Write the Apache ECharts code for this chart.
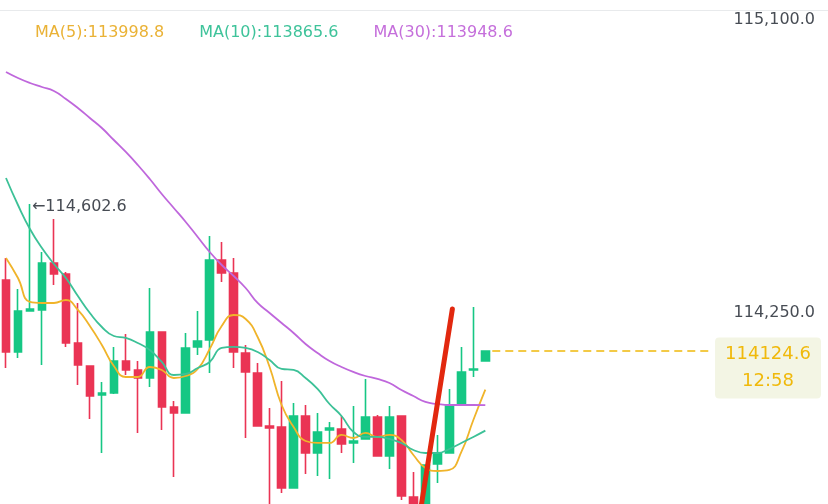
<!DOCTYPE html>
<html>
<head>
<meta charset="utf-8">
<script src="https://cdn.jsdelivr.net/npm/echarts@6/dist/echarts.min.js"></script>
<style>
html,body{margin:0;padding:0;background:#fff;}
#chart{width:828px;height:504px;}
</style>
</head>
<body>
<div id="chart"></div>
<script>
// ---- data ----
const categories = ['1','2','3','4','5','6','7','8','9','10','11','12','13','14','15','16','17','18','19','20','21','22','23','24','25','26','27','28','29','30','31','32','33','34','35','36','37','38','39','40','41'];
const opens  = [114355.5,114121.4,114254.7,114258.0,114410.8,114375.1,114150.7,114075.9,113981.6,113988.1,114092.1,114062.9,114036.8,114186.4,113942.5,113923.0,114137.7,114160.4,114420.6,114378.3,114118.1,114053.1,113880.7,113877.5,113679.1,113913.3,113792.9,113867.7,113871.0,113825.5,113838.5,113910.0,113783.2,113913.3,113649.9,113601.1,113757.2,113792.9,113949.0,114062.9,114092.1];
const closes = [114121.4,114254.7,114261.2,114410.8,114375.1,114150.7,114079.1,113978.3,113988.1,114092.1,114062.9,114036.8,114186.4,113942.5,113923.0,114134.4,114157.2,114420.6,114378.3,114121.4,114056.4,113880.7,113874.2,113679.1,113913.3,113792.9,113861.2,113874.2,113822.2,113832.0,113910.0,113783.2,113910.0,113653.1,113601.1,113753.9,113792.9,113945.8,114056.4,114066.1,114124.6];
const lows   = [114069.4,114101.9,114254.7,114079.1,114339.3,114137.7,114014.1,113903.5,113792.9,113984.8,114046.6,113858.0,114007.6,113867.7,113714.9,113923.0,114111.6,114053.1,114349.0,114069.4,113841.7,113880.7,113607.6,113662.9,113679.1,113724.7,113718.2,113708.4,113792.9,113760.4,113838.5,113783.2,113740.9,113640.1,113575.1,113591.3,113695.4,113792.9,113949.0,114040.1,114092.1];
const highs  = [114427.1,114326.3,114602.6,114446.6,114553.9,114381.6,114280.7,114075.9,114023.8,114137.7,114179.9,114092.1,114329.5,114186.4,113962.0,114183.2,114254.7,114498.6,114479.1,114427.1,114144.2,114085.6,113939.3,114027.1,113955.5,113949.0,113923.0,113893.8,113913.3,113945.8,114033.6,113916.5,113945.8,113913.3,113731.2,113753.9,113851.5,114001.1,114137.7,114267.7,114124.6];
const ma5  = [114427.1,114362.0,114284.0,114280.7,114280.7,114290.5,114258.0,114205.9,114144.2,114075.9,114040.1,114040.1,114072.6,114062.9,114036.8,114043.3,114066.1,114131.2,114205.9,114241.7,114228.7,114170.2,114072.6,113949.0,113877.5,113832.0,113825.5,113825.5,113851.5,113841.7,113858.0,113845.0,113851.5,113835.2,113786.4,113744.2,113734.4,113737.7,113796.2,113900.3,113998.8];
const ma10 = [114687.2,114599.4,114521.4,114459.6,114407.6,114362.0,114303.5,114248.2,114202.7,114173.4,114166.9,114150.7,114127.9,114088.9,114046.6,114049.9,114069.4,114088.9,114134.4,114137.7,114134.4,114121.4,114095.4,114066.1,114062.9,114036.8,114001.1,113952.3,113913.3,113861.2,113845.0,113845.0,113838.5,113825.5,113802.7,113792.9,113792.9,113806.0,113825.5,113845.0,113865.6];
const ma30 = [115032.0,115012.4,114996.2,114983.2,114970.2,114944.2,114914.9,114882.4,114849.8,114810.8,114771.8,114729.5,114684.0,114635.2,114589.7,114544.2,114495.4,114446.6,114404.3,114368.5,114329.5,114280.7,114248.2,114215.7,114183.2,114147.4,114118.1,114092.1,114072.6,114056.4,114043.3,114033.6,114020.6,113997.8,113978.3,113958.8,113952.3,113949.0,113949.0,113949.0,113948.6];
const axisTickValues = [114250.0];
const topTickLabel = '115,100.0';
const lastPrice = 114124.6;
const countdown = '12:58';
const highMark = { index: 2, value: 114602.6 };
const trendLine = [[34.53, 113591.3], [37.25, 114261.2]];

// ---- build ----
const candleData = categories.map((c, i) => [opens[i], closes[i], lows[i], highs[i]]);
const fmt = v => v.toLocaleString('en-US', { minimumFractionDigits: 1, maximumFractionDigits: 1 });
const FONT = 'DejaVu Sans';
const UP = '#16c784', DOWN = '#ea3454';
const C5 = '#f0b42a', C10 = '#3cc197', C30 = '#bf67dc';

const chart = echarts.init(document.getElementById('chart'));
chart.setOption({
  animation: false,
  backgroundColor: '#ffffff',
  grid: { left: -1, top: 0, width: 720, height: 504 },
  legend: {
    left: 30, top: 25, padding: 0, itemGap: 30, itemWidth: 0, itemHeight: 0,
    selectedMode: false, icon: 'rect',
    data: [
      { name: 'MA(5)', textStyle: { color: '#eab236' } },
      { name: 'MA(10)', textStyle: { color: '#3ec39a' } },
      { name: 'MA(30)', textStyle: { color: '#c56fdb' } }
    ],
    formatter: name => {
      const arr = name === 'MA(5)' ? ma5 : name === 'MA(10)' ? ma10 : ma30;
      return name + ':' + arr[arr.length - 1].toFixed(1);
    },
    textStyle: { fontFamily: FONT, fontSize: 16, lineHeight: 16 }
  },
  xAxis: [
    { type: 'category', data: categories, max: 59, boundaryGap: true,
      axisLine: { show: false }, axisTick: { show: false }, axisLabel: { show: false }, splitLine: { show: false } },
    { type: 'value', min: -0.5, max: 59.5, show: false }
  ],
  yAxis: {
    type: 'value', position: 'right', min: 113627.0, max: 115266.1, scale: true,
    axisLine: { show: false }, axisTick: { show: false }, splitLine: { show: false },
    axisLabel: { customValues: axisTickValues, formatter: fmt, color: '#474c54', fontFamily: FONT, fontSize: 16, align: 'right', margin: 96 }
  },
  graphic: [
    { type: 'line', shape: { x1: 0, y1: 10.5, x2: 828, y2: 10.5 }, style: { stroke: '#e8eaec', lineWidth: 1 } },
    { type: 'text', x: 815, y: 20, style: { text: topTickLabel, fill: '#474c54', fontFamily: FONT, fontSize: 16, align: 'right', verticalAlign: 'middle' } }
  ],
  series: [
    {
      type: 'candlestick', name: 'K', data: candleData, barWidth: 8,
      itemStyle: { color: UP, color0: DOWN, borderColor: UP, borderColor0: DOWN, borderWidth: 1.6 },
      markPoint: {
        symbol: 'rect', symbolSize: 0, silent: true,
        data: [{ coord: [highMark.index, highMark.value], value: highMark.value }],
        label: { show: true, position: 'right', distance: 2, offset: [0, 3], formatter: () => '←' + fmt(highMark.value),
          color: '#474c54', fontFamily: FONT, fontSize: 16 }
      }
    },
    { type: 'line', name: 'MA(5)', data: ma5, smooth: true, symbol: 'none', lineStyle: { color: C5, width: 1.8 }, itemStyle: { color: C5 }, z: 3 },
    { type: 'line', name: 'MA(10)', data: ma10, smooth: true, symbol: 'none', lineStyle: { color: C10, width: 1.8 }, itemStyle: { color: C10 }, z: 3 },
    { type: 'line', name: 'MA(30)', data: ma30, smooth: true, symbol: 'none', lineStyle: { color: C30, width: 1.8 }, itemStyle: { color: C30 }, z: 3 },
    {
      type: 'line', name: 'trend', xAxisIndex: 1, data: trendLine, symbol: 'none', z: 10,
      lineStyle: { color: '#e2280f', width: 5, cap: 'round' },
      markLine: {
        silent: true, symbol: ['none', 'none'],
        lineStyle: { color: '#f0b90b', width: 1.5, type: [8, 5], opacity: 1 },
        emphasis: { disabled: true },
        label: { show: false },
        data: [[{ coord: [40.58, lastPrice], lineStyle: { color: '#f0b90b' } }, { coord: [59, lastPrice] }]]
      },
      markPoint: {
        symbol: 'rect', symbolSize: 0, silent: true,
        data: [{ coord: [59, lastPrice], value: lastPrice }],
        label: { show: true, position: 'right', distance: 0, align: 'center', verticalAlign: 'middle', offset: [55, 17],
          formatter: () => lastPrice.toFixed(1) + '\n' + countdown,
          color: '#f0b90b', fontFamily: FONT, fontSize: 18, lineHeight: 27,
          backgroundColor: '#f3f5e4', padding: [4, 10, 3, 10], borderRadius: 4 }
      }
    }
  ]
});
</script>
</body>
</html>
